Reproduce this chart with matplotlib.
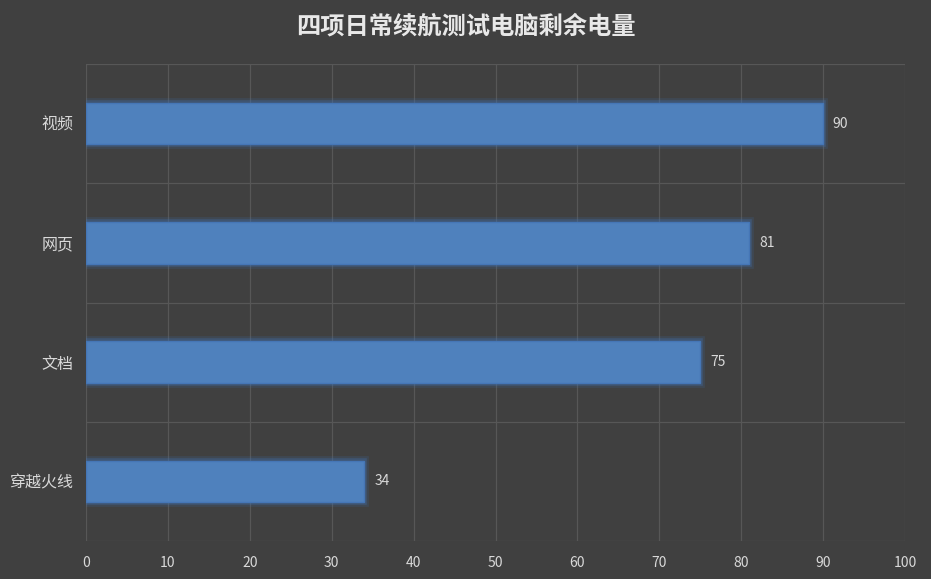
import matplotlib
matplotlib.use("Agg")
import matplotlib.pyplot as plt
import matplotlib.patheffects as pe

plt.rcParams['font.family'] = ['Noto Sans CJK SC', 'DejaVu Sans']

categories = ['穿越火线', '文档', '网页', '视频']
values = [34, 75, 81, 90]
xticks = [0, 10, 20, 30, 40, 50, 60, 70, 80, 90, 100]
title = '四项日常续航测试电脑剩余电量'

bg = '#404040'
fig = plt.figure(figsize=(9.31, 5.79), dpi=100, facecolor=bg)
ax = fig.add_axes([86/931, 1-541/579, (905-86)/931, (541-64)/579])
ax.set_facecolor(bg)

ypos = list(range(len(categories)))
bars = ax.barh(ypos, values, height=0.35, color='#4f81bd', edgecolor='#4576b6',
               linewidth=1.0, zorder=3)
for b in bars:
    b.set_path_effects([
        pe.Stroke(linewidth=7, foreground='#3f6fae', alpha=0.18),
        pe.Stroke(linewidth=4, foreground='#3f6fae', alpha=0.35),
        pe.Normal(),
    ])

for y, v in zip(ypos, values):
    ax.annotate(str(v), (v, y), xytext=(7, 0), textcoords='offset points',
                va='center', ha='left', color='#d9d9d9', fontsize=10, zorder=4)

ax.set_xlim(0, 100)
ax.set_ylim(-0.5, len(categories) - 0.5)
ax.set_xticks(xticks)
ax.set_xticklabels([str(t) for t in xticks], color='#d9d9d9', fontsize=10)
ax.set_yticks(ypos)
ax.set_yticklabels(categories, color='#d9d9d9', fontsize=11.5)
ax.set_yticks([i - 0.5 for i in range(len(categories) + 1)], minor=True)
ax.tick_params(axis='both', length=0, which='both')
ax.tick_params(axis='x', pad=11)
ax.tick_params(axis='y', pad=9)
ax.grid(True, axis='x', which='major', color='#575757', linewidth=0.9, zorder=0)
ax.grid(True, axis='y', which='minor', color='#575757', linewidth=0.9, zorder=0)
ax.grid(False, axis='y', which='major')
for s in ax.spines.values():
    s.set_visible(False)
ax.set_axisbelow(True)

fig.text(0.5, 1-27/579, title, ha='center', va='center', color='#e8e8e8',
         fontsize=17.5, fontweight='bold')

fig.savefig('out.png', dpi=100, facecolor=bg)
